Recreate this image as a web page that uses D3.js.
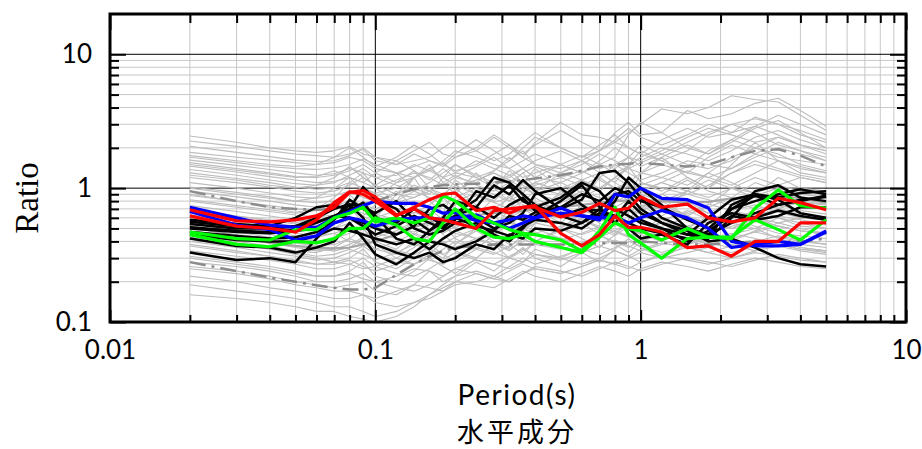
<!DOCTYPE html>
<html>
<head>
<meta charset="utf-8">
<script src="https://cdn.jsdelivr.net/npm/d3@7/dist/d3.min.js"></script>
<style>
body { margin: 0; background: #fff; }
</style>
</head>
<body>
<svg id="chart" width="922" height="449"></svg>
<script>
// periods (s) shared by every curve
var periods = [0.02,0.03,0.04,0.05,0.06,0.07,0.08,0.09,0.1,0.12,0.14,0.16,0.18,0.2,0.24,0.28,0.32,0.36,0.4,0.5,0.6,0.7,0.8,0.9,1.0,1.2,1.5,1.8,2.2,2.7,3.3,4.0,5.0];

// all records, light grey
var grayCurves = [
	[2.45,2.2,2.0,1.9,1.85,1.9,2.05,1.8,1.7,1.6,1.9,2.2,1.8,1.7,1.9,2.4,2.0,1.7,2.2,3.1,2.5,2.4,2.2,2.6,3.0,3.9,3.6,4.0,4.9,4.6,4.4,3.5,2.7],
	[2.25,2.05,1.9,1.8,1.75,1.7,1.8,1.95,1.6,1.5,1.6,1.7,2.0,2.3,1.9,1.6,1.8,2.2,2.6,2.0,1.7,1.9,2.6,3.1,2.5,2.6,3.8,3.3,3.6,4.3,4.7,3.8,2.9],
	[1.85,1.7,1.62,1.55,1.5,1.55,1.7,1.6,1.4,1.3,1.45,1.6,1.5,1.35,1.5,1.8,2.1,1.7,1.5,1.4,1.6,1.9,2.2,2.0,1.8,1.6,1.9,2.5,3.0,3.3,3.0,2.7,2.3],
	[1.7,1.55,1.45,1.4,1.38,1.42,1.5,1.65,1.5,1.3,1.2,1.35,1.6,1.9,1.7,1.5,1.4,1.6,1.8,1.5,1.3,1.5,1.7,2.5,3.1,2.6,2.0,1.8,2.2,2.8,3.2,2.6,2.0],
	[1.62,1.48,1.38,1.3,1.25,1.28,1.4,1.3,1.2,1.25,1.5,1.35,1.2,1.3,1.6,1.4,1.25,1.4,1.6,1.9,1.6,1.4,1.5,1.7,1.6,1.9,2.4,2.8,2.5,2.2,2.4,2.1,1.9],
	[1.55,1.4,1.3,1.22,1.2,1.25,1.35,1.5,1.3,1.1,1.2,1.4,1.55,1.3,1.2,1.35,1.6,1.9,1.5,1.3,1.5,1.8,1.6,1.4,1.55,1.8,2.2,2.6,3.0,2.6,2.1,1.9,1.7],
	[1.46,1.32,1.22,1.15,1.1,1.12,1.2,1.1,1.0,1.15,1.3,1.2,1.05,1.2,1.45,1.7,1.4,1.2,1.3,1.5,1.75,1.5,1.3,1.45,1.7,2.0,1.8,1.6,1.9,2.4,2.7,2.3,2.0],
	[1.38,1.25,1.15,1.08,1.05,1.1,1.25,1.4,1.2,1.05,0.95,1.1,1.3,1.5,1.25,1.1,1.2,1.4,1.2,1.1,1.3,1.5,1.4,1.7,2.1,1.8,1.5,1.4,1.6,2.0,2.4,2.1,1.8],
	[1.3,1.18,1.1,1.02,0.98,1.0,1.1,1.0,0.92,1.0,1.2,1.4,1.2,1.05,1.15,1.3,1.15,1.0,1.1,1.3,1.15,1.0,1.2,1.4,1.3,1.2,1.45,1.9,2.3,2.0,1.7,1.6,1.5],
	[1.2,1.1,1.02,0.95,0.92,0.95,1.05,1.2,1.05,0.9,0.85,0.95,1.1,1.25,1.05,0.95,1.1,1.3,1.45,1.2,1.05,1.2,1.5,1.3,1.15,1.3,1.6,1.5,1.4,1.7,2.0,1.8,1.6],
	[1.1,1.0,0.92,0.86,0.84,0.88,0.95,0.85,0.8,0.9,1.05,0.95,0.85,0.95,1.15,1.3,1.1,0.95,1.05,1.2,1.35,1.15,1.0,1.1,1.3,1.5,1.3,1.2,1.4,1.8,2.2,1.9,1.6],
	[1.02,0.93,0.86,0.8,0.78,0.8,0.9,1.02,0.9,0.78,0.85,1.0,0.9,0.8,0.92,1.1,1.25,1.05,0.9,1.0,1.15,1.3,1.1,0.95,1.05,1.2,1.05,1.3,1.7,2.0,1.8,1.5,1.35],
	[0.95,0.86,0.8,0.75,0.72,0.74,0.8,0.75,0.7,0.8,0.95,0.85,0.75,0.85,1.0,0.9,0.8,0.92,1.1,0.95,0.85,1.0,1.2,1.05,0.95,1.1,1.35,1.2,1.05,1.3,1.6,1.45,1.3],
	[0.88,0.8,0.74,0.7,0.68,0.7,0.78,0.9,0.8,0.7,0.65,0.75,0.9,1.05,0.9,0.78,0.85,1.0,0.9,0.8,0.95,0.85,0.78,0.9,1.1,1.0,0.9,1.05,1.3,1.5,1.35,1.2,1.1],
	[0.8,0.72,0.67,0.63,0.61,0.63,0.7,0.65,0.6,0.68,0.8,0.72,0.65,0.75,0.88,0.78,0.7,0.8,0.95,1.1,0.92,0.8,0.9,1.05,0.9,0.8,0.95,1.15,1.0,0.92,1.05,1.2,1.1],
	[0.74,0.67,0.62,0.58,0.56,0.58,0.64,0.72,0.64,0.58,0.55,0.62,0.74,0.66,0.6,0.7,0.85,0.75,0.68,0.78,0.9,0.8,0.72,0.82,0.95,1.1,0.95,0.85,1.0,1.2,1.05,0.95,0.9],
	[0.68,0.62,0.57,0.54,0.52,0.54,0.58,0.54,0.5,0.56,0.66,0.6,0.55,0.62,0.72,0.66,0.6,0.68,0.78,0.7,0.64,0.74,0.85,0.75,0.68,0.78,0.9,0.82,0.75,0.88,1.0,0.9,0.85],
	[0.63,0.57,0.53,0.5,0.48,0.5,0.55,0.62,0.55,0.5,0.47,0.53,0.62,0.7,0.6,0.55,0.62,0.72,0.65,0.6,0.68,0.62,0.58,0.66,0.75,0.7,0.64,0.72,0.85,0.8,0.72,0.78,0.75],
	[0.58,0.53,0.49,0.46,0.44,0.46,0.5,0.46,0.43,0.48,0.56,0.5,0.46,0.52,0.6,0.54,0.5,0.56,0.64,0.72,0.62,0.56,0.62,0.7,0.64,0.58,0.66,0.76,0.68,0.62,0.7,0.65,0.6],
	[0.54,0.49,0.45,0.42,0.4,0.42,0.46,0.52,0.46,0.42,0.39,0.44,0.52,0.46,0.42,0.48,0.56,0.5,0.46,0.52,0.58,0.52,0.48,0.55,0.62,0.56,0.52,0.58,0.66,0.6,0.55,0.6,0.58],
	[0.5,0.45,0.42,0.39,0.37,0.38,0.42,0.38,0.35,0.4,0.46,0.42,0.38,0.43,0.5,0.45,0.42,0.48,0.55,0.5,0.45,0.5,0.56,0.5,0.46,0.52,0.6,0.55,0.5,0.56,0.62,0.58,0.54],
	[0.46,0.42,0.39,0.36,0.34,0.35,0.38,0.43,0.38,0.34,0.32,0.36,0.42,0.48,0.42,0.38,0.44,0.5,0.45,0.41,0.46,0.52,0.47,0.43,0.48,0.55,0.5,0.46,0.52,0.58,0.52,0.48,0.46],
	[0.43,0.39,0.36,0.33,0.31,0.32,0.35,0.32,0.29,0.33,0.38,0.35,0.32,0.36,0.42,0.38,0.35,0.4,0.46,0.42,0.38,0.43,0.48,0.44,0.4,0.45,0.5,0.46,0.42,0.47,0.52,0.48,0.45],
	[0.4,0.36,0.33,0.31,0.29,0.3,0.33,0.37,0.32,0.28,0.27,0.3,0.35,0.4,0.35,0.32,0.37,0.42,0.38,0.35,0.39,0.44,0.4,0.36,0.41,0.46,0.42,0.38,0.42,0.47,0.43,0.4,0.38],
	[0.37,0.33,0.31,0.29,0.27,0.27,0.29,0.26,0.24,0.27,0.31,0.29,0.27,0.31,0.36,0.33,0.3,0.34,0.39,0.36,0.33,0.37,0.41,0.37,0.34,0.38,0.42,0.39,0.36,0.4,0.44,0.41,0.38],
	[0.34,0.31,0.29,0.27,0.25,0.25,0.27,0.3,0.26,0.23,0.22,0.25,0.29,0.33,0.29,0.27,0.31,0.35,0.32,0.29,0.33,0.37,0.34,0.31,0.35,0.39,0.36,0.33,0.37,0.41,0.38,0.35,0.34],
	[0.31,0.28,0.26,0.24,0.22,0.22,0.23,0.21,0.2,0.22,0.25,0.24,0.22,0.25,0.29,0.27,0.25,0.28,0.32,0.3,0.27,0.3,0.34,0.31,0.28,0.32,0.36,0.33,0.3,0.34,0.37,0.34,0.32],
	[0.28,0.26,0.24,0.22,0.2,0.2,0.21,0.23,0.2,0.18,0.17,0.19,0.22,0.25,0.23,0.21,0.24,0.27,0.25,0.23,0.26,0.29,0.27,0.25,0.28,0.31,0.29,0.27,0.3,0.33,0.31,0.29,0.28],
	[0.25,0.23,0.21,0.19,0.18,0.17,0.17,0.16,0.15,0.17,0.19,0.18,0.17,0.2,0.23,0.21,0.2,0.23,0.26,0.24,0.22,0.25,0.28,0.26,0.24,0.27,0.3,0.28,0.26,0.29,0.32,0.3,0.28],
	[0.22,0.2,0.18,0.17,0.16,0.15,0.15,0.16,0.14,0.13,0.14,0.16,0.18,0.2,0.19,0.18,0.21,0.24,0.22,0.2,0.23,0.26,0.24,0.22,0.25,0.28,0.26,0.24,0.27,0.3,0.28,0.26,0.25],
	[0.19,0.17,0.16,0.15,0.14,0.13,0.13,0.12,0.11,0.12,0.14,0.15,0.17,0.19,0.2,0.22,0.2,0.23,0.25,0.23,0.26,0.29,0.27,0.3,0.33,0.3,0.33,0.36,0.33,0.37,0.4,0.36,0.34],
	[0.16,0.15,0.14,0.13,0.12,0.12,0.11,0.105,0.1,0.11,0.13,0.16,0.19,0.22,0.24,0.22,0.26,0.3,0.27,0.31,0.35,0.32,0.36,0.4,0.37,0.33,0.38,0.42,0.46,0.42,0.38,0.35,0.33],
	[0.9,0.8,0.72,0.66,0.7,0.85,1.1,1.3,1.0,0.8,1.2,1.5,1.1,0.9,1.3,1.0,0.8,1.1,1.4,1.0,0.8,1.2,1.0,0.85,1.3,1.7,1.2,1.0,1.5,2.2,1.6,1.3,1.2],
	[0.7,0.62,0.58,0.55,0.6,0.75,0.9,0.7,0.6,0.9,1.2,0.8,0.65,1.0,0.75,0.6,0.9,0.7,0.62,0.95,0.7,0.6,0.85,1.2,0.9,0.7,0.95,1.3,1.1,0.9,1.2,1.0,0.95],
	[0.6,0.54,0.5,0.47,0.5,0.6,0.72,0.55,0.5,0.62,0.5,0.45,0.6,0.8,0.6,0.5,0.7,0.9,0.7,0.55,0.75,0.6,0.52,0.7,0.95,0.8,0.62,0.75,1.0,0.85,0.7,0.8,0.76],
	[0.52,0.47,0.43,0.4,0.42,0.5,0.6,0.5,0.4,0.35,0.45,0.55,0.45,0.38,0.5,0.62,0.5,0.42,0.55,0.7,0.55,0.45,0.6,0.5,0.45,0.62,0.8,0.65,0.55,0.7,0.6,0.55,0.5],
	[0.45,0.4,0.37,0.34,0.33,0.36,0.42,0.5,0.38,0.3,0.36,0.45,0.55,0.42,0.35,0.45,0.6,0.48,0.4,0.5,0.65,0.55,0.45,0.58,0.75,0.6,0.5,0.62,0.55,0.5,0.6,0.52,0.5],
	[0.38,0.34,0.31,0.28,0.27,0.28,0.3,0.35,0.28,0.25,0.3,0.38,0.32,0.28,0.35,0.45,0.38,0.32,0.4,0.5,0.42,0.36,0.45,0.55,0.45,0.4,0.52,0.45,0.4,0.48,0.55,0.5,0.46],
	[0.3,0.27,0.25,0.23,0.22,0.22,0.24,0.28,0.22,0.2,0.24,0.3,0.26,0.23,0.3,0.38,0.3,0.28,0.35,0.3,0.36,0.45,0.38,0.33,0.4,0.5,0.42,0.36,0.45,0.5,0.42,0.38,0.36],
	[0.26,0.24,0.22,0.2,0.19,0.18,0.19,0.2,0.17,0.16,0.19,0.24,0.2,0.22,0.28,0.24,0.3,0.36,0.3,0.26,0.33,0.28,0.35,0.42,0.36,0.3,0.38,0.44,0.38,0.34,0.4,0.36,0.34],
	[1.75,1.6,1.5,1.45,1.5,1.7,2.0,1.7,1.45,1.7,2.1,1.8,1.5,1.8,2.3,1.9,1.6,2.0,2.4,2.0,1.7,2.1,2.5,2.0,1.8,2.3,2.8,2.4,2.6,3.4,3.0,2.5,2.2],
	[1.25,1.15,1.05,1.0,1.05,1.2,1.45,1.2,1.05,1.3,1.0,0.9,1.2,1.5,1.2,1.0,1.35,1.1,0.95,1.3,1.6,1.3,1.1,1.5,1.9,1.6,1.3,1.7,2.1,1.8,1.6,1.4,1.3],
	[1.0,0.9,0.84,0.8,0.85,1.0,1.2,0.95,0.85,1.1,1.35,1.0,0.85,1.15,0.9,0.8,1.05,1.3,1.0,0.9,1.15,0.95,1.2,1.45,1.1,0.95,1.2,1.0,1.3,1.6,1.4,1.25,1.15],
	[0.82,0.74,0.69,0.65,0.68,0.8,0.7,0.62,0.75,0.95,0.72,0.65,0.85,0.7,0.62,0.85,1.05,0.8,0.7,0.9,0.75,0.68,0.95,0.8,0.72,0.9,1.15,0.95,0.85,1.1,0.95,0.9,0.86],
	[0.65,0.59,0.55,0.52,0.5,0.58,0.7,0.6,0.52,0.46,0.55,0.7,0.58,0.5,0.65,0.55,0.5,0.68,0.85,0.65,0.56,0.72,0.62,0.55,0.7,0.9,0.75,0.65,0.8,0.7,0.75,0.68,0.64],
	[0.56,0.51,0.47,0.44,0.43,0.46,0.4,0.38,0.45,0.55,0.45,0.4,0.5,0.62,0.5,0.44,0.56,0.48,0.58,0.72,0.58,0.5,0.65,0.55,0.6,0.75,0.62,0.55,0.68,0.75,0.66,0.6,0.58],
	[0.48,0.44,0.4,0.37,0.35,0.34,0.36,0.42,0.35,0.32,0.4,0.34,0.3,0.38,0.48,0.4,0.36,0.45,0.4,0.48,0.6,0.5,0.44,0.52,0.48,0.56,0.68,0.58,0.5,0.6,0.52,0.48,0.45],
	[0.42,0.38,0.35,0.32,0.3,0.28,0.27,0.25,0.26,0.3,0.27,0.32,0.4,0.34,0.3,0.38,0.34,0.42,0.5,0.42,0.38,0.46,0.55,0.46,0.42,0.5,0.44,0.5,0.6,0.52,0.46,0.44,0.42],
	[2.05,1.85,1.72,1.62,1.58,1.6,1.75,2.0,1.7,1.5,1.8,1.6,1.45,1.7,2.0,2.5,2.1,1.8,2.1,2.7,2.2,1.9,2.3,2.8,2.4,2.1,2.5,3.0,2.6,2.9,3.5,3.0,2.5],
	[1.5,1.36,1.27,1.2,1.22,1.35,1.2,1.1,1.3,1.6,1.35,1.15,1.4,1.2,1.1,1.35,1.7,1.4,1.2,1.5,1.3,1.6,2.0,1.7,1.45,1.7,2.1,1.8,2.3,2.9,2.5,2.1,1.9]
];

// mean and mean +/- one sd, dark grey
var meanPlusSd  = [0.95,0.8,0.72,0.7,0.69,0.7,0.73,0.76,0.8,0.9,0.98,1.02,1.05,1.07,1.08,1.1,1.12,1.15,1.18,1.25,1.35,1.45,1.5,1.52,1.55,1.5,1.45,1.5,1.7,1.9,1.95,1.75,1.45];
var meanCurve   = [0.52,0.44,0.39,0.37,0.36,0.355,0.36,0.38,0.4,0.45,0.51,0.56,0.6,0.62,0.63,0.65,0.66,0.68,0.69,0.72,0.75,0.78,0.8,0.81,0.82,0.8,0.78,0.79,0.84,0.87,0.88,0.84,0.78];
var meanMinusSd = [0.28,0.24,0.215,0.2,0.188,0.18,0.175,0.175,0.18,0.225,0.27,0.31,0.34,0.36,0.37,0.38,0.38,0.38,0.38,0.38,0.38,0.39,0.39,0.39,0.4,0.39,0.38,0.38,0.39,0.4,0.4,0.4,0.42];

// selected records
var blackCurves = [
	[0.58,0.54,0.52,0.6,0.72,0.75,0.68,0.78,0.6,0.55,0.7,0.62,0.52,0.58,0.95,0.85,1.05,0.8,0.72,0.85,1.1,0.95,0.7,0.62,0.55,0.5,0.45,0.6,0.82,0.9,0.85,0.92,0.95],
	[0.54,0.5,0.5,0.52,0.6,0.7,0.76,0.72,0.65,0.8,0.58,0.48,0.56,0.62,0.72,1.05,0.9,1.15,0.95,0.7,0.82,1.3,1.35,1.1,0.85,0.6,0.5,0.45,0.55,0.65,0.75,0.8,0.88],
	[0.51,0.48,0.47,0.49,0.55,0.62,0.7,1.02,0.82,0.7,0.5,0.45,0.48,0.55,0.6,0.5,0.55,0.65,0.9,1.0,0.75,0.6,0.8,1.2,1.0,0.75,0.5,0.42,0.6,0.95,1.05,0.85,0.8],
	[0.47,0.44,0.42,0.43,0.47,0.55,0.6,0.52,0.45,0.52,0.62,0.55,0.5,0.6,0.52,0.48,0.62,0.58,0.66,0.72,0.9,0.8,1.0,0.9,0.7,0.55,0.45,0.42,0.75,0.9,0.82,0.65,0.6],
	[0.42,0.37,0.36,0.33,0.36,0.4,0.55,0.42,0.32,0.27,0.33,0.4,0.38,0.35,0.4,0.48,0.44,0.52,0.58,0.55,0.5,0.62,0.55,0.7,0.58,0.5,0.4,0.48,0.62,0.58,0.62,0.72,0.72],
	[0.33,0.29,0.3,0.28,0.42,0.6,0.75,0.6,0.38,0.33,0.3,0.33,0.28,0.3,0.38,0.35,0.45,0.42,0.5,0.48,0.55,0.65,0.6,0.8,0.65,0.55,0.48,0.4,0.42,0.36,0.3,0.27,0.26],
	[0.5,0.47,0.46,0.48,0.5,0.58,0.82,0.7,0.62,0.42,0.38,0.48,0.6,0.8,0.72,0.6,0.75,0.85,0.68,0.62,0.55,0.7,0.9,0.95,0.8,0.72,0.58,0.5,0.7,0.88,0.75,0.82,0.86],
	[0.56,0.52,0.5,0.52,0.56,0.62,0.6,0.55,0.5,0.45,0.52,0.7,0.75,0.65,0.82,1.2,1.1,0.9,0.75,0.62,0.7,0.68,0.62,0.55,0.5,0.46,0.42,0.45,0.7,0.8,0.9,0.98,0.9],
	[0.45,0.41,0.4,0.4,0.44,0.5,0.48,0.45,0.42,0.38,0.42,0.35,0.42,0.48,0.55,0.45,0.4,0.5,0.62,0.8,1.05,0.72,0.55,0.5,0.42,0.45,0.38,0.55,0.65,0.6,0.68,0.62,0.58]
];
var blueCurves = [
	[0.72,0.6,0.53,0.51,0.51,0.6,0.67,0.74,0.8,0.77,0.77,0.72,0.65,0.66,0.57,0.55,0.58,0.62,0.6,0.71,0.62,0.58,0.9,0.86,1.0,0.84,0.82,0.71,0.4,0.37,0.37,0.38,0.48],
	[0.67,0.53,0.49,0.41,0.44,0.55,0.6,0.57,0.52,0.58,0.6,0.6,0.58,0.6,0.63,0.55,0.5,0.55,0.6,0.65,0.62,0.6,0.61,0.55,0.6,0.68,0.6,0.5,0.36,0.38,0.4,0.38,0.47]
];
var greenCurves = [
	[0.47,0.42,0.41,0.49,0.49,0.6,0.65,0.72,0.56,0.6,0.55,0.6,0.88,0.8,0.61,0.55,0.49,0.46,0.45,0.41,0.34,0.48,0.72,0.45,0.39,0.3,0.42,0.43,0.42,0.71,0.97,0.74,0.71],
	[0.45,0.38,0.365,0.4,0.39,0.42,0.5,0.5,0.6,0.53,0.42,0.4,0.55,0.7,0.5,0.43,0.42,0.45,0.4,0.36,0.33,0.43,0.55,0.5,0.48,0.41,0.5,0.43,0.43,0.58,0.49,0.41,0.58]
];
var redCurves = [
	[0.69,0.57,0.56,0.58,0.62,0.72,0.93,0.96,0.86,0.63,0.7,0.6,0.58,0.55,0.5,0.68,0.7,0.72,0.72,0.61,0.66,0.77,0.68,0.71,0.86,0.72,0.76,0.6,0.56,0.6,0.84,0.78,0.69],
	[0.62,0.52,0.5,0.47,0.58,0.78,0.94,0.9,0.8,0.62,0.72,0.82,0.9,0.92,0.68,0.72,0.65,0.72,0.74,0.46,0.37,0.45,0.62,0.51,0.51,0.47,0.36,0.37,0.31,0.4,0.4,0.55,0.55]
];

var xMajor = [0.01, 0.1, 1, 10];
var xTickLabels = ["0.01", "0.1", "1", "10"];
var yMajor = [0.1, 1, 10];
var yTickLabels = ["0.1", "1", "10"];
var xTitle = "Period(s)";
var yTitle = "Ratio";
var subTitle = "水平成分";

var svg = d3.select("#chart");
var L = 110, R = 906, T = 14, B = 322;

var x = d3.scaleLog().domain([0.01, 10]).range([L, R]);
var y = d3.scaleLog().domain([0.1, 20]).range([B, T]);

var xMinor = [];
[0.01, 0.1, 1].forEach(function(d) { for (var k = 2; k <= 9; ++k) xMinor.push(d * k); });
var yMinor = [];
[0.1, 1].forEach(function(d) { for (var k = 2; k <= 9; ++k) yMinor.push(d * k); });

// grid
var grid = svg.append("g");
grid.selectAll(".vminor").data(xMinor).enter().append("line")
	.attr("x1", function(d) { return x(d); }).attr("x2", function(d) { return x(d); })
	.attr("y1", T).attr("y2", B)
	.attr("stroke", "#c8c8c8").attr("stroke-width", 1);
grid.selectAll(".hminor").data(yMinor).enter().append("line")
	.attr("y1", function(d) { return y(d); }).attr("y2", function(d) { return y(d); })
	.attr("x1", L).attr("x2", R)
	.attr("stroke", "#c8c8c8").attr("stroke-width", 1);
grid.selectAll(".vmajor").data([0.1, 1]).enter().append("line")
	.attr("x1", function(d) { return x(d); }).attr("x2", function(d) { return x(d); })
	.attr("y1", T).attr("y2", B)
	.attr("stroke", "#000").attr("stroke-width", 1);
grid.selectAll(".hmajor").data([1, 10]).enter().append("line")
	.attr("y1", function(d) { return y(d); }).attr("y2", function(d) { return y(d); })
	.attr("x1", L).attr("x2", R)
	.attr("stroke", "#000").attr("stroke-width", 1);

// curves
svg.append("clipPath").attr("id", "plotclip").append("rect")
	.attr("x", L).attr("y", T).attr("width", R - L).attr("height", B - T);
var plot = svg.append("g").attr("clip-path", "url(#plotclip)");

var line = d3.line()
	.x(function(d, i) { return x(periods[i]); })
	.y(function(d) { return y(d); });

function drawCurves(list, color, width, dash) {
	plot.append("g").selectAll("path").data(list).enter().append("path")
		.attr("d", line)
		.attr("fill", "none")
		.attr("stroke", color)
		.attr("stroke-width", width)
		.attr("stroke-linejoin", "round")
		.attr("stroke-dasharray", dash || null);
}

drawCurves(grayCurves, "#bdbdbd", 1.1);
drawCurves([meanCurve], "#a6a6a6", 2.2);
drawCurves([meanPlusSd, meanMinusSd], "#8c8c8c", 2.5, "16,6,3,6");
drawCurves(blackCurves, "#000", 2.5);
drawCurves(blueCurves, "#0000ff", 3.2);
drawCurves(greenCurves, "#00ff00", 3.2);
drawCurves(redCurves, "#ff0000", 3.2);

// ticks, all pointing inward
function axisGroup(axis, tx, ty) {
	var g = svg.append("g").attr("transform", "translate(" + tx + "," + ty + ")").call(axis);
	g.select(".domain").remove();
	g.selectAll(".tick line").attr("stroke", "#000").attr("stroke-width", 2);
	return g;
}
var tickFont = "Lato, 'Open Sans', sans-serif";

axisGroup(d3.axisBottom(x).tickValues(xMinor).tickSize(-7).tickFormat(""), 0, B);
axisGroup(d3.axisTop(x).tickValues(xMinor).tickSize(-9).tickFormat(""), 0, T);
axisGroup(d3.axisTop(x).tickValues(xMajor).tickSize(-16).tickFormat(""), 0, T);
var xb = axisGroup(d3.axisBottom(x).tickValues(xMajor).tickSize(-12).tickPadding(19)
	.tickFormat(function(d, i) { return xTickLabels[i]; }), 0, B);
xb.selectAll("text").attr("font-family", tickFont).attr("font-size", 26).attr("fill", "#000");

axisGroup(d3.axisLeft(y).tickValues(yMinor).tickSize(-9).tickFormat(""), L, 0);
axisGroup(d3.axisRight(y).tickValues(yMinor).tickSize(-9).tickFormat(""), R, 0);
axisGroup(d3.axisRight(y).tickValues(yMajor).tickSize(-16).tickFormat(""), R, 0);
var yl = axisGroup(d3.axisLeft(y).tickValues(yMajor).tickSize(-16).tickPadding(18)
	.tickFormat(function(d, i) { return yTickLabels[i]; }), L, 0);
yl.selectAll("text").attr("font-family", tickFont).attr("font-size", 26).attr("fill", "#000");

// frame
svg.append("rect").attr("x", L).attr("y", T).attr("width", R - L).attr("height", B - T)
	.attr("fill", "none").attr("stroke", "#000").attr("stroke-width", 3);

// titles
svg.append("text").attr("x", 517).attr("y", 405).attr("text-anchor", "middle")
	.attr("font-family", tickFont).attr("font-size", 28).attr("letter-spacing", 1.5).text(xTitle);
svg.append("text").attr("x", 517).attr("y", 442).attr("text-anchor", "middle")
	.attr("font-family", "'Noto Sans CJK JP', sans-serif").attr("font-size", 27)
	.attr("letter-spacing", 3).text(subTitle);
svg.append("text").attr("transform", "translate(38,198) rotate(-90)").attr("text-anchor", "middle")
	.attr("font-family", "'Liberation Serif', serif").attr("font-size", 33).text(yTitle);
</script>
</body>
</html>
